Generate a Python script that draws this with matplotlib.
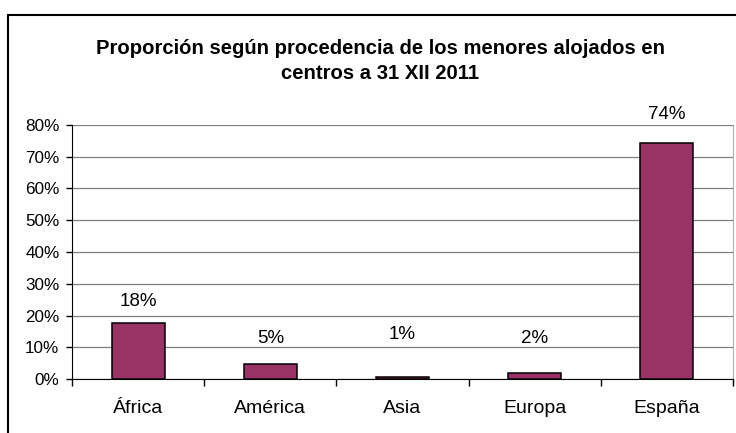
import matplotlib
matplotlib.use("Agg")
import matplotlib.pyplot as plt
from matplotlib.patches import Rectangle
from matplotlib.ticker import FuncFormatter, MultipleLocator

categories = ["África", "América", "Asia", "Europa", "España"]
values = [0.177, 0.046, 0.007, 0.019, 0.744]
value_labels = ["18%", "5%", "1%", "2%", "74%"]
label_offsets_px = [21, 26, 42, 34, 28]

title = "Proporción según procedencia de los menores alojados en\ncentros a 31 XII 2011"

plt.rcParams['font.family'] = ['Liberation Sans', 'DejaVu Sans']

W, H = 736, 433
fig = plt.figure(figsize=(W / 100, H / 100), dpi=100)
fig.patch.set_facecolor("white")

# outer chart border (partially cropped)
fig.add_artist(Rectangle((8 / W, -0.2), 1.2, 1 - 15 / H + 0.2, transform=fig.transFigure,
                         fill=False, edgecolor="black", linewidth=1.5, clip_on=False))

left, right, top, bottom = 72, 733, 125, 379
ax = fig.add_axes([left / W, 1 - bottom / H, (right - left) / W, (bottom - top) / H])

x = list(range(len(categories)))
bars = ax.bar(x, values, width=0.4, color="#993366", edgecolor="black", linewidth=1.1, zorder=3)

ax.set_xlim(-0.5, len(categories) - 0.5)
ax.set_ylim(0, 0.8)
ax.yaxis.set_major_locator(MultipleLocator(0.1))
ax.yaxis.set_major_formatter(FuncFormatter(lambda v, p: f"{v*100:.0f}%"))
ax.grid(axis="y", color="#808080", linewidth=0.9, zorder=0)
ax.set_axisbelow(True)

ax.set_xticks(x)
ax.set_xticklabels(categories, fontsize=14)
ax.tick_params(axis="x", length=0, pad=15)
# minor ticks between categories
ax.set_xticks([i + 0.5 for i in range(-1, len(categories))], minor=True)
ax.tick_params(axis="x", which="minor", length=5, width=1, color="black")
ax.tick_params(axis="y", length=4, width=1, labelsize=12.3, pad=5)

ax.spines["top"].set_visible(False)
ax.spines["right"].set_color("#b0b0b0")
ax.spines["left"].set_color("black")
ax.spines["bottom"].set_color("black")

for b, lab, off in zip(bars, value_labels, label_offsets_px):
    ax.annotate(lab, (b.get_x() + b.get_width() / 2, b.get_height()),
                xytext=(0, off * 72 / 100), textcoords="offset points",
                ha="center", va="center", fontsize=13.5)

fig.text(380 / W, 1 - 61 / H, title, ha="center", va="center", fontsize=14.6,
         fontweight="bold", linespacing=1.42)

fig.savefig("out.png", dpi=100)
